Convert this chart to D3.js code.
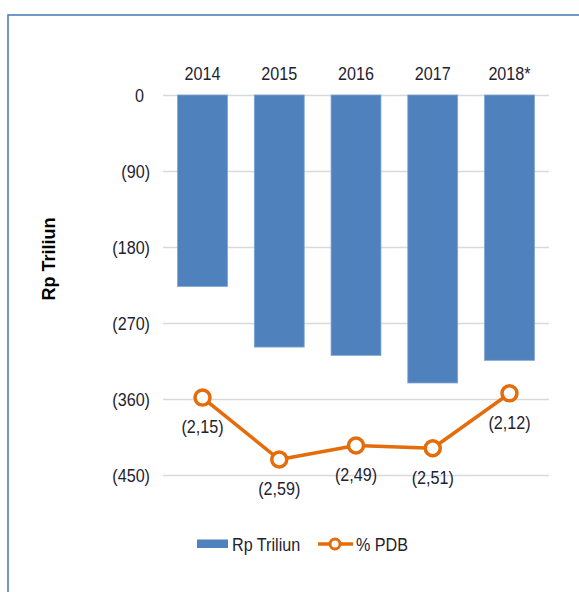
<!DOCTYPE html>
<html>
<head>
<meta charset="utf-8">
<script src="https://cdn.jsdelivr.net/npm/d3@7"></script>
<style>
  body { margin: 0; background: #fff; }
  svg text { font-family: "Liberation Sans", Arial, sans-serif; fill: #1f2230; }
</style>
</head>
<body>
<div id="chart"></div>
<script>
// data
var years = ["2014", "2015", "2016", "2017", "2018*"];
var defisit = [-226.7, -298.5, -308.3, -341.0, -314.2];   // Rp Triliun (bars)
var pdb = [-2.15, -2.59, -2.49, -2.51, -2.12];            // % PDB (line)
var pdbLabels = ["(2,15)", "(2,59)", "(2,49)", "(2,51)", "(2,12)"];
var yTicks = [0, -90, -180, -270, -360, -450];

var width = 579, height = 592;
var sx = 0.85; // squeeze text horizontally, like the source

var svg = d3.select("#chart").append("svg")
  .attr("width", width)
  .attr("height", height);

// outer frame (runs off the right and bottom edge)
svg.append("rect")
  .attr("x", 8).attr("y", 15)
  .attr("width", 640).attr("height", 640)
  .attr("fill", "none")
  .attr("stroke", "#4f7fb9")
  .attr("stroke-width", 1.6);

//____ scales ____
var x = d3.scaleBand().domain(years).range([163, 549])
  .paddingInner(0.35).paddingOuter(0.19);
var y = d3.scaleLinear().domain([0, -450]).range([95, 475]);
var y2 = d3.scaleLinear().domain([0, -2.7]).range([95, 475]); // hidden secondary axis

//____ y axis with gridlines ____
var yAxis = svg.append("g")
  .attr("transform", "translate(163,0)")
  .call(d3.axisLeft(y)
    .tickValues(yTicks)
    .tickSize(-(549 - 163))
    .tickPadding(13)
    .tickFormat(function (d) { return d < 0 ? "(" + Math.abs(d) + ")" : d; }));
yAxis.select(".domain").remove();
yAxis.selectAll("line").attr("stroke", "#d9d9d9").attr("stroke-width", 1.5);
yAxis.selectAll("text")
  .attr("font-size", 19)
  .attr("x", function (d) { return (d < 0 ? -13 : -19) / sx; })
  .attr("transform", "scale(" + sx + ",1)");

//____ category labels on top ____
var xAxis = svg.append("g")
  .attr("transform", "translate(0,95)")
  .call(d3.axisTop(x).tickSize(0).tickPadding(15));
xAxis.select(".domain").remove();
xAxis.selectAll("text")
  .attr("font-size", 19)
  .attr("transform", "scale(" + sx + ",1)")
  .attr("x", 0);

//____ bars ____
svg.selectAll(".bar")
  .data(defisit)
  .enter().append("rect")
  .attr("class", "bar")
  .attr("x", function (d, i) { return x(years[i]); })
  .attr("y", y(0))
  .attr("width", x.bandwidth())
  .attr("height", function (d) { return y(d) - y(0); })
  .attr("fill", "#4f81bd")
  .attr("stroke", "#7ea3d3")
  .attr("stroke-width", 0.8);

//____ % PDB line ____
var cx = function (d, i) { return x(years[i]) + x.bandwidth() / 2; };
var line = d3.line()
  .x(function (d, i) { return cx(d, i); })
  .y(function (d) { return y2(d); });

svg.append("path")
  .datum(pdb)
  .attr("d", line)
  .attr("fill", "none")
  .attr("stroke", "#e46c0a")
  .attr("stroke-width", 3.5)
  .attr("stroke-linejoin", "round");

svg.selectAll(".dot")
  .data(pdb)
  .enter().append("circle")
  .attr("class", "dot")
  .attr("cx", cx)
  .attr("cy", function (d) { return y2(d); })
  .attr("r", 7.5)
  .attr("fill", "#fff")
  .attr("stroke", "#e46c0a")
  .attr("stroke-width", 3.5);

svg.selectAll(".lbl")
  .data(pdb)
  .enter().append("text")
  .attr("class", "lbl")
  .attr("transform", function (d, i) {
    return "translate(" + cx(d, i) + "," + (y2(d) + 29) + ") scale(" + sx + ",1)";
  })
  .attr("dy", "0.35em")
  .attr("text-anchor", "middle")
  .attr("font-size", 19)
  .text(function (d, i) { return pdbLabels[i]; });

//____ axis title ____
svg.append("text")
  .attr("transform", "translate(55,259) rotate(-90) scale(0.95,1)")
  .attr("text-anchor", "middle")
  .attr("font-size", 19)
  .attr("font-weight", "bold")
  .style("fill", "#000")
  .text("Rp Triliun");

//____ legend ____
var legend = svg.append("g");
legend.append("rect")
  .attr("x", 197).attr("y", 539.5)
  .attr("width", 31).attr("height", 8.5)
  .attr("fill", "#4f81bd");
legend.append("text")
  .attr("transform", "translate(232,544) scale(" + sx + ",1)")
  .attr("dy", "0.35em")
  .attr("font-size", 19)
  .text("Rp Triliun");
legend.append("line")
  .attr("x1", 318).attr("x2", 353)
  .attr("y1", 544).attr("y2", 544)
  .attr("stroke", "#e46c0a")
  .attr("stroke-width", 3.5);
legend.append("circle")
  .attr("cx", 335).attr("cy", 544).attr("r", 5)
  .attr("fill", "#fff")
  .attr("stroke", "#e46c0a")
  .attr("stroke-width", 3);
legend.append("text")
  .attr("transform", "translate(356,544) scale(" + sx + ",1)")
  .attr("dy", "0.35em")
  .attr("font-size", 19)
  .text("% PDB");
</script>
</body>
</html>
